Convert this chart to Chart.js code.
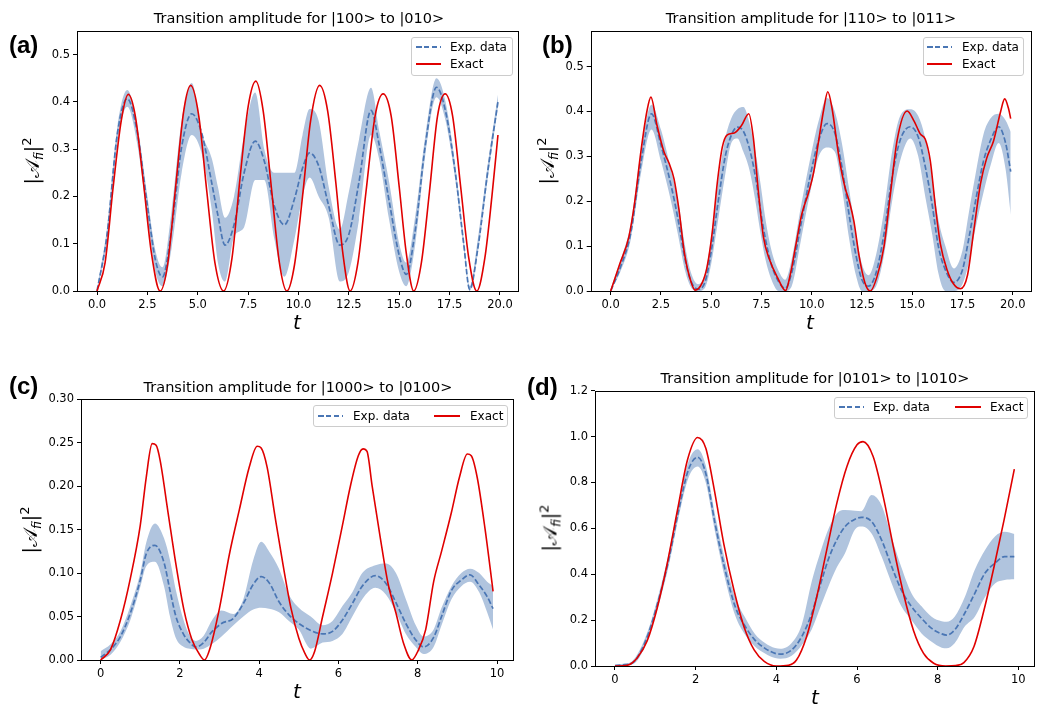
<!DOCTYPE html>
<html lang="en">
<head>
<meta charset="UTF-8">
<title>Transition amplitudes</title>
<script src="https://cdn.jsdelivr.net/npm/chart.js"></script>
<style>
  body { margin: 0; background: #fff; width: 1044px; height: 708px; position: relative; overflow: hidden; font-family: "DejaVu Sans", sans-serif; color: #000; }
  canvas { position: absolute; }
  .title { position: absolute; font-size: 14.5px; transform: translate(-50%, -50%); white-space: nowrap; }
  .tag { position: absolute; font: bold 24px "Liberation Sans", Arial, sans-serif; transform: translateY(-50%); }
  .xlab { position: absolute; font-style: italic; font-size: 20px; transform: translate(-50%, -50%); }
  .ylab { position: absolute; font-size: 19px; transform: translate(-50%, -50%) rotate(-90deg); white-space: nowrap; }
  .ylab sub { font-size: 12px; font-style: italic; vertical-align: -4px; }
  .ylab sup { font-size: 13px; vertical-align: 8px; }
  .legend { position: absolute; border: 1px solid #ccc; border-radius: 3px; background: rgba(255,255,255,0.8); box-sizing: border-box; }
  .lg-line { position: absolute; height: 2px; transform: translateY(-50%); }
  .lg-text { position: absolute; font-size: 12px; transform: translateY(-50%); white-space: nowrap; }
</style>
</head>
<body>
<canvas id="chartA" width="520" height="330" style="left:0;top:0"></canvas>
<canvas id="chartB" width="524" height="330" style="left:520px;top:0"></canvas>
<canvas id="chartC" width="520" height="330" style="left:0;top:370px"></canvas>
<canvas id="chartD" width="524" height="330" style="left:520px;top:370px"></canvas>

<div class="title" style="left:299px;top:18px">Transition amplitude for |100&gt; to |010&gt;</div>
<div class="title" style="left:811px;top:18px">Transition amplitude for |110&gt; to |011&gt;</div>
<div class="title" style="left:298px;top:387px">Transition amplitude for |1000&gt; to |0100&gt;</div>
<div class="title" style="left:815px;top:378px">Transition amplitude for |0101&gt; to |1010&gt;</div>

<div class="tag" style="left:9px;top:45px">(a)</div>
<div class="tag" style="left:542px;top:45px">(b)</div>
<div class="tag" style="left:9px;top:386px">(c)</div>
<div class="tag" style="left:527px;top:387px">(d)</div>

<div class="ylab" style="left:32px;top:161px">|𝒜<sub>fi</sub>|<sup>2</sup></div>
<div class="ylab" style="left:547px;top:161px">|𝒜<sub>fi</sub>|<sup>2</sup></div>
<div class="ylab" style="left:30px;top:530px">|𝒜<sub>fi</sub>|<sup>2</sup></div>
<div class="ylab" style="left:550px;top:528px">|𝒜<sub>fi</sub>|<sup>2</sup></div>

<div class="xlab" style="left:297px;top:322px">t</div>
<div class="xlab" style="left:810px;top:322px">t</div>
<div class="xlab" style="left:297px;top:691px">t</div>
<div class="xlab" style="left:815px;top:697px">t</div>

<div class="legend" style="left:411px;top:37px;width:102px;height:39px"></div>
<div class="lg-line dash" style="left:416px;top:47px;width:25px"></div>
<div class="lg-text" style="left:450px;top:47px">Exp. data</div>
<div class="lg-line solid" style="left:416px;top:64px;width:25px"></div>
<div class="lg-text" style="left:450px;top:64px">Exact</div>

<div class="legend" style="left:923px;top:37px;width:101px;height:39px"></div>
<div class="lg-line dash" style="left:927px;top:47px;width:25px"></div>
<div class="lg-text" style="left:962px;top:47px">Exp. data</div>
<div class="lg-line solid" style="left:927px;top:64px;width:25px"></div>
<div class="lg-text" style="left:962px;top:64px">Exact</div>

<div class="legend" style="left:313px;top:405px;width:195px;height:22px"></div>
<div class="lg-line dash" style="left:318px;top:416px;width:25px"></div>
<div class="lg-text" style="left:353px;top:416px">Exp. data</div>
<div class="lg-line solid" style="left:434px;top:416px;width:26px"></div>
<div class="lg-text" style="left:470px;top:416px">Exact</div>

<div class="legend" style="left:834px;top:397px;width:194px;height:22px"></div>
<div class="lg-line dash" style="left:839px;top:407px;width:25px"></div>
<div class="lg-text" style="left:873px;top:407px">Exp. data</div>
<div class="lg-line solid" style="left:955px;top:407px;width:26px"></div>
<div class="lg-text" style="left:990px;top:407px">Exact</div>

<script>
// ---- data ----
const xTicksLong = [0, 2.5, 5, 7.5, 10, 12.5, 15, 17.5, 20];
const xTicksShort = [0, 2, 4, 6, 8, 10];
const yTicksAB = [0, 0.1, 0.2, 0.3, 0.4, 0.5];
const yTicksC = [0, 0.05, 0.1, 0.15, 0.2, 0.25, 0.3];
const yTicksD = [0, 0.2, 0.4, 0.6, 0.8, 1.0, 1.2];

// (a) |100> -> |010>
const tExactA = [0, 0.4, 0.8, 1.2, 1.55, 1.9, 2.3, 2.7, 3.13, 3.5, 3.9, 4.3, 4.65, 5.05, 5.45, 5.85, 6.28, 6.7, 7.1, 7.5, 7.88, 8.25, 8.65, 9.05, 9.42, 9.8, 10.2, 10.6, 11.05, 11.45, 11.85, 12.2, 12.56, 12.95, 13.35, 13.8, 14.2, 14.6, 15.0, 15.35, 15.72, 16.1, 16.5, 16.9, 17.28, 17.65, 18.05, 18.45, 18.85, 19.25, 19.6, 19.9];
const exactA = [0, 0.06, 0.22, 0.36, 0.416, 0.37, 0.23, 0.08, 0, 0.055, 0.22, 0.38, 0.435, 0.37, 0.21, 0.06, 0, 0.07, 0.24, 0.39, 0.444, 0.38, 0.22, 0.06, 0, 0.055, 0.2, 0.36, 0.435, 0.38, 0.23, 0.08, 0, 0.06, 0.21, 0.37, 0.417, 0.37, 0.22, 0.08, 0, 0.06, 0.21, 0.37, 0.417, 0.37, 0.22, 0.07, 0, 0.07, 0.2, 0.33];
const tExpA = [0, 0.5, 1.0, 1.5, 2.0, 2.5, 2.9, 3.25, 3.7, 4.2, 4.7, 5.2, 5.7, 6.0, 6.35, 6.8, 7.3, 7.85, 8.3, 8.8, 9.3, 9.8, 10.2, 10.55, 11.0, 11.5, 12.05, 12.5, 13.0, 13.6, 14.0, 14.5, 15.0, 15.35, 15.8, 16.3, 16.85, 17.3, 17.8, 18.2, 18.5, 18.9, 19.4, 19.9];
const expA = [0, 0.12, 0.33, 0.407, 0.335, 0.18, 0.065, 0.03, 0.13, 0.305, 0.375, 0.333, 0.227, 0.16, 0.097, 0.14, 0.25, 0.317, 0.275, 0.18, 0.14, 0.195, 0.26, 0.292, 0.265, 0.18, 0.097, 0.12, 0.23, 0.382, 0.31, 0.19, 0.075, 0.035, 0.13, 0.31, 0.431, 0.38, 0.245, 0.1, 0.003, 0.09, 0.255, 0.4];
const upperA = [0.005, 0.135, 0.345, 0.425, 0.35, 0.2, 0.085, 0.05, 0.17, 0.36, 0.44, 0.335, 0.28, 0.22, 0.155, 0.2, 0.33, 0.42, 0.3, 0.25, 0.25, 0.25, 0.33, 0.385, 0.36, 0.22, 0.13, 0.21, 0.32, 0.43, 0.34, 0.23, 0.1, 0.06, 0.16, 0.33, 0.45, 0.4, 0.26, 0.11, 0.01, 0.11, 0.27, 0.415];
const lowerA = [0, 0.105, 0.31, 0.39, 0.31, 0.155, 0.04, 0.01, 0.09, 0.25, 0.33, 0.29, 0.17, 0.06, 0.02, 0.115, 0.135, 0.235, 0.235, 0.11, 0.03, 0.11, 0.2, 0.24, 0.2, 0.155, 0.02, 0.04, 0.15, 0.33, 0.28, 0.15, 0.04, 0.01, 0.1, 0.29, 0.41, 0.36, 0.23, 0.09, 0, 0.08, 0.24, 0.39];

// (b) |110> -> |011>
const tExactB = [0, 0.45, 0.9, 1.2, 1.5, 1.8, 2.0, 2.3, 2.65, 2.9, 3.15, 3.4, 3.65, 3.9, 4.2, 4.55, 4.8, 5.05, 5.3, 5.55, 5.8, 6.15, 6.5, 6.87, 7.1, 7.35, 7.6, 7.9, 8.3, 8.7, 8.95, 9.2, 9.5, 9.85, 10.1, 10.35, 10.6, 10.8, 11.0, 11.35, 11.65, 11.9, 12.1, 12.35, 12.65, 12.92, 13.25, 13.6, 13.9, 14.25, 14.75, 15.1, 15.4, 15.65, 15.9, 16.15, 16.4, 16.75, 17.05, 17.4, 17.75, 18.05, 18.4, 18.7, 19.05, 19.4, 19.6, 19.8, 19.9];
const exactB = [0, 0.06, 0.12, 0.2, 0.31, 0.4, 0.432, 0.37, 0.31, 0.285, 0.25, 0.18, 0.09, 0.035, 0.002, 0.018, 0.055, 0.13, 0.24, 0.32, 0.348, 0.352, 0.368, 0.395, 0.34, 0.22, 0.12, 0.07, 0.03, 0.001, 0.04, 0.1, 0.17, 0.22, 0.265, 0.336, 0.405, 0.444, 0.41, 0.3, 0.232, 0.195, 0.155, 0.08, 0.018, 0, 0.032, 0.1, 0.21, 0.336, 0.401, 0.378, 0.35, 0.338, 0.29, 0.19, 0.105, 0.045, 0.016, 0.005, 0.035, 0.13, 0.24, 0.295, 0.335, 0.4, 0.428, 0.405, 0.384];
const tExpB = [0, 0.5, 1.0, 1.5, 2.03, 2.5, 3.0, 3.35, 3.7, 4.0, 4.35, 4.7, 5.0, 5.35, 5.7, 6.0, 6.3, 6.6, 6.9, 7.2, 7.45, 7.7, 8.0, 8.35, 8.68, 9.0, 9.45, 9.95, 10.35, 10.76, 11.15, 11.5, 11.85, 12.2, 12.5, 12.83, 13.2, 13.6, 14.0, 14.4, 14.9, 15.3, 15.65, 16.0, 16.3, 16.65, 17.07, 17.5, 17.8, 18.15, 18.55, 18.9, 19.3, 19.65, 19.9];
const expB = [0, 0.055, 0.13, 0.285, 0.395, 0.325, 0.236, 0.16, 0.07, 0.021, 0.004, 0.021, 0.088, 0.2, 0.3, 0.347, 0.365, 0.356, 0.318, 0.255, 0.18, 0.115, 0.058, 0.021, 0.006, 0.04, 0.145, 0.262, 0.336, 0.373, 0.352, 0.277, 0.173, 0.08, 0.025, 0.011, 0.04, 0.128, 0.254, 0.336, 0.366, 0.343, 0.277, 0.19, 0.1, 0.047, 0.019, 0.047, 0.113, 0.2, 0.29, 0.336, 0.366, 0.329, 0.266];
const upperB = [0.005, 0.07, 0.15, 0.31, 0.415, 0.36, 0.27, 0.2, 0.1, 0.04, 0.015, 0.04, 0.12, 0.245, 0.34, 0.385, 0.405, 0.41, 0.375, 0.31, 0.24, 0.16, 0.09, 0.045, 0.025, 0.07, 0.185, 0.3, 0.38, 0.43, 0.4, 0.33, 0.23, 0.13, 0.06, 0.035, 0.08, 0.18, 0.31, 0.39, 0.405, 0.39, 0.34, 0.25, 0.16, 0.1, 0.05, 0.09, 0.17, 0.26, 0.35, 0.385, 0.395, 0.38, 0.355];
const lowerB = [0, 0.045, 0.115, 0.26, 0.36, 0.29, 0.2, 0.125, 0.045, 0.008, 0, 0.008, 0.06, 0.16, 0.26, 0.33, 0.34, 0.31, 0.27, 0.2, 0.13, 0.07, 0.025, 0, 0, 0.01, 0.11, 0.225, 0.3, 0.32, 0.31, 0.23, 0.12, 0.035, 0, 0, 0.01, 0.08, 0.2, 0.29, 0.34, 0.3, 0.21, 0.125, 0.04, 0, 0, 0.015, 0.06, 0.14, 0.22, 0.28, 0.33, 0.27, 0.17];

// (c) |1000> -> |0100>
const tExactC = [0, 0.25, 0.5, 0.75, 1.0, 1.15, 1.3, 1.4, 1.5, 1.7, 1.9, 2.1, 2.3, 2.5, 2.62, 2.75, 3.0, 3.25, 3.5, 3.75, 3.95, 4.05, 4.2, 4.4, 4.6, 4.8, 5.0, 5.15, 5.27, 5.4, 5.6, 5.85, 6.1, 6.3, 6.5, 6.62, 6.72, 6.85, 7.05, 7.25, 7.45, 7.65, 7.85, 8.0, 8.2, 8.4, 8.6, 8.85, 9.05, 9.25, 9.35, 9.5, 9.7, 9.9];
const exactC = [0, 0.012, 0.046, 0.094, 0.155, 0.21, 0.249, 0.247, 0.23, 0.17, 0.11, 0.058, 0.024, 0.006, 0, 0.012, 0.06, 0.122, 0.173, 0.222, 0.246, 0.244, 0.222, 0.165, 0.11, 0.06, 0.025, 0.008, 0, 0.01, 0.05, 0.1, 0.155, 0.2, 0.235, 0.243, 0.24, 0.2, 0.142, 0.088, 0.054, 0.018, 0, 0.01, 0.035, 0.09, 0.125, 0.17, 0.21, 0.237, 0.235, 0.21, 0.15, 0.079];
const tExpC = [0, 0.25, 0.5, 0.75, 1.0, 1.15, 1.37, 1.6, 1.75, 1.9, 2.1, 2.25, 2.4, 2.6, 2.8, 3.05, 3.35, 3.6, 3.85, 4.05, 4.25, 4.5, 4.75, 5.0, 5.3, 5.6, 5.85, 6.1, 6.35, 6.6, 6.93, 7.2, 7.45, 7.7, 7.95, 8.15, 8.4, 8.6, 8.85, 9.1, 9.32, 9.55, 9.75, 9.9];
const expC = [0.003, 0.012, 0.027, 0.054, 0.092, 0.122, 0.132, 0.112, 0.08, 0.05, 0.029, 0.02, 0.015, 0.02, 0.032, 0.042, 0.048, 0.065, 0.087, 0.096, 0.089, 0.067, 0.052, 0.042, 0.034, 0.03, 0.033, 0.046, 0.065, 0.085, 0.097, 0.088, 0.066, 0.042, 0.023, 0.015, 0.026, 0.05, 0.08, 0.092, 0.098, 0.086, 0.073, 0.059];
const upperC = [0.01, 0.018, 0.033, 0.062, 0.1, 0.135, 0.157, 0.14, 0.115, 0.08, 0.045, 0.028, 0.022, 0.028, 0.045, 0.057, 0.053, 0.07, 0.115, 0.136, 0.125, 0.105, 0.075, 0.06, 0.05, 0.04, 0.045, 0.062, 0.078, 0.1, 0.109, 0.111, 0.1, 0.07, 0.04, 0.027, 0.035, 0.06, 0.085, 0.1, 0.105, 0.1, 0.09, 0.085];
const lowerC = [0, 0.006, 0.021, 0.046, 0.084, 0.108, 0.113, 0.085, 0.05, 0.025, 0.015, 0.013, 0.012, 0.013, 0.018, 0.027, 0.04, 0.05, 0.058, 0.06, 0.059, 0.055, 0.045, 0.035, 0.013, 0.02, 0.022, 0.03, 0.05, 0.07, 0.083, 0.075, 0.055, 0.03, 0.015, 0.007, 0.015, 0.04, 0.07, 0.085, 0.09, 0.078, 0.055, 0.035];

// (d) |0101> -> |1010>
const tExactD = [0, 0.3, 0.55, 0.8, 1.05, 1.3, 1.55, 1.8, 2.05, 2.25, 2.45, 2.7, 2.95, 3.2, 3.45, 3.7, 4.0, 4.3, 4.5, 4.75, 5.0, 5.25, 5.5, 5.75, 6.0, 6.15, 6.4, 6.65, 6.9, 7.15, 7.4, 7.65, 7.9, 8.2, 8.45, 8.65, 8.9, 9.15, 9.4, 9.65, 9.9];
const exactD = [0, 0.003, 0.035, 0.11, 0.255, 0.45, 0.68, 0.9, 0.996, 0.95, 0.78, 0.53, 0.33, 0.17, 0.07, 0.02, 0, 0.003, 0.026, 0.128, 0.3, 0.506, 0.71, 0.87, 0.964, 0.978, 0.913, 0.738, 0.52, 0.317, 0.155, 0.055, 0.012, 0, 0.002, 0.015, 0.085, 0.245, 0.435, 0.64, 0.858];
const tExpD = [0, 0.2, 0.42, 0.6, 0.83, 1.08, 1.33, 1.58, 1.82, 2.05, 2.25, 2.48, 2.73, 2.98, 3.23, 3.47, 3.72, 3.97, 4.1, 4.38, 4.63, 4.88, 5.1, 5.3, 5.5, 5.7, 5.95, 6.11, 6.36, 6.61, 6.86, 7.1, 7.35, 7.6, 7.85, 8.1, 8.22, 8.42, 8.67, 8.92, 9.17, 9.42, 9.66, 9.9];
const expD = [0.002, 0.005, 0.012, 0.05, 0.142, 0.288, 0.462, 0.68, 0.855, 0.91, 0.84, 0.622, 0.419, 0.259, 0.172, 0.113, 0.077, 0.055, 0.052, 0.07, 0.128, 0.23, 0.36, 0.47, 0.55, 0.607, 0.64, 0.648, 0.63, 0.549, 0.433, 0.331, 0.259, 0.208, 0.164, 0.14, 0.135, 0.157, 0.23, 0.317, 0.404, 0.448, 0.477, 0.477];
const upperD = [0.005, 0.01, 0.02, 0.065, 0.16, 0.31, 0.49, 0.71, 0.89, 0.945, 0.875, 0.66, 0.46, 0.3, 0.21, 0.14, 0.1, 0.078, 0.075, 0.1, 0.18, 0.37, 0.5, 0.6, 0.665, 0.68, 0.677, 0.675, 0.745, 0.7, 0.56, 0.43, 0.317, 0.26, 0.215, 0.195, 0.193, 0.215, 0.3, 0.42, 0.505, 0.565, 0.585, 0.575];
const lowerD = [0, 0.002, 0.006, 0.035, 0.125, 0.265, 0.435, 0.65, 0.82, 0.87, 0.8, 0.585, 0.38, 0.22, 0.135, 0.085, 0.055, 0.035, 0.032, 0.045, 0.09, 0.16, 0.26, 0.35, 0.43, 0.49, 0.595, 0.608, 0.578, 0.477, 0.36, 0.26, 0.2, 0.142, 0.106, 0.08, 0.077, 0.099, 0.172, 0.215, 0.3, 0.36, 0.375, 0.378];

// ---- styling ----
const BLUE = '#4a76b4';
const RED = '#e00000';
const BAND = '#b0c4de';
const DASH = [5.5, 2.4];

document.querySelectorAll('.lg-line.dash').forEach(el => {
  el.style.background = `repeating-linear-gradient(to right, ${BLUE} 0 ${DASH[0]}px, transparent ${DASH[0]}px ${DASH[0] + DASH[1]}px)`;
});
document.querySelectorAll('.lg-line.solid').forEach(el => { el.style.background = RED; });

function pts(ts, vs) { return ts.map((t, i) => ({ x: t, y: vs[i] })); }

// matplotlib-like box around the axes
const frame = {
  id: 'frame',
  afterDraw(chart) {
    const a = chart.chartArea, c = chart.ctx;
    c.save();
    c.strokeStyle = '#000';
    c.lineWidth = 1;
    c.strokeRect(Math.round(a.left) + 0.5, Math.round(a.top) + 0.5, Math.round(a.right) - Math.round(a.left), Math.round(a.bottom) - Math.round(a.top));
    c.restore();
  }
};

const tickFont = { family: 'DejaVu Sans', size: 11.5 };

function drawPanel(id, p) {
  new Chart(document.getElementById(id), {
    type: 'line',
    data: {
      datasets: [
        { label: 'upper', data: pts(p.tExp, p.upper), borderColor: 'rgba(0,0,0,0)', borderWidth: 0, backgroundColor: BAND, fill: '+1', order: 3 },
        { label: 'lower', data: pts(p.tExp, p.lower), borderColor: 'rgba(0,0,0,0)', borderWidth: 0, fill: false, order: 3 },
        { label: 'Exp. data', data: pts(p.tExp, p.exp), borderColor: BLUE, borderWidth: 1.7, borderDash: DASH, fill: false, order: 2 },
        { label: 'Exact', data: pts(p.tExact, p.exact), borderColor: RED, borderWidth: 1.6, fill: false, order: 1 }
      ]
    },
    options: {
      responsive: false,
      animation: false,
      events: [],
      elements: { point: { radius: 0 }, line: { cubicInterpolationMode: 'monotone' } },
      layout: { padding: { left: 0, top: p.padTop, right: p.padRight, bottom: 0 } },
      plugins: { legend: { display: false }, tooltip: { enabled: false } },
      scales: {
        x: {
          type: 'linear', min: p.xMin, max: p.xMax,
          afterFit: s => { s.height = p.xAxisH; },
          afterBuildTicks: s => { s.ticks = p.xTicks.map(v => ({ value: v })); },
          ticks: { autoSkip: false, maxRotation: 0, padding: 3, color: '#000', font: tickFont, callback: v => v.toFixed(p.xDec) },
          grid: { drawOnChartArea: false, tickLength: 4, color: '#000', lineWidth: 1 },
          border: { display: false }
        },
        y: {
          type: 'linear', min: 0, max: p.yMax,
          afterFit: s => { s.width = p.yAxisW; },
          afterBuildTicks: s => { s.ticks = p.yTicks.map(v => ({ value: v })); },
          ticks: { autoSkip: false, padding: 3, color: '#000', font: tickFont, callback: v => v.toFixed(p.yDec) },
          grid: { drawOnChartArea: false, tickLength: 4, color: '#000', lineWidth: 1 },
          border: { display: false }
        }
      }
    },
    plugins: [frame]
  });
}

drawPanel('chartA', { tExact: tExactA, exact: exactA, tExp: tExpA, exp: expA, upper: upperA, lower: lowerA,
  xMin: -0.995, xMax: 20.895, yMax: 0.55, xTicks: xTicksLong, yTicks: yTicksAB, xDec: 1, yDec: 1,
  padTop: 31, padRight: 2, yAxisW: 77, xAxisH: 39 });
drawPanel('chartB', { tExact: tExactB, exact: exactB, tExp: tExpB, exp: expB, upper: upperB, lower: lowerB,
  xMin: -0.995, xMax: 20.895, yMax: 0.58, xTicks: xTicksLong, yTicks: yTicksAB, xDec: 1, yDec: 1,
  padTop: 30.7, padRight: 13.3, yAxisW: 70.7, xAxisH: 39 });
drawPanel('chartC', { tExact: tExactC, exact: exactC, tExp: tExpC, exp: expC, upper: upperC, lower: lowerC,
  xMin: -0.495, xMax: 10.395, yMax: 0.30, xTicks: xTicksShort, yTicks: yTicksC, xDec: 0, yDec: 2,
  padTop: 29.3, padRight: 7.3, yAxisW: 81, xAxisH: 40 });
drawPanel('chartD', { tExact: tExactD, exact: exactD, tExp: tExpD, exp: expD, upper: upperD, lower: lowerD,
  xMin: -0.495, xMax: 10.395, yMax: 1.2, xTicks: xTicksShort, yTicks: yTicksD, xDec: 0, yDec: 1,
  padTop: 20.7, padRight: 9.7, yAxisW: 75, xAxisH: 34 });
</script>
</body>
</html>
